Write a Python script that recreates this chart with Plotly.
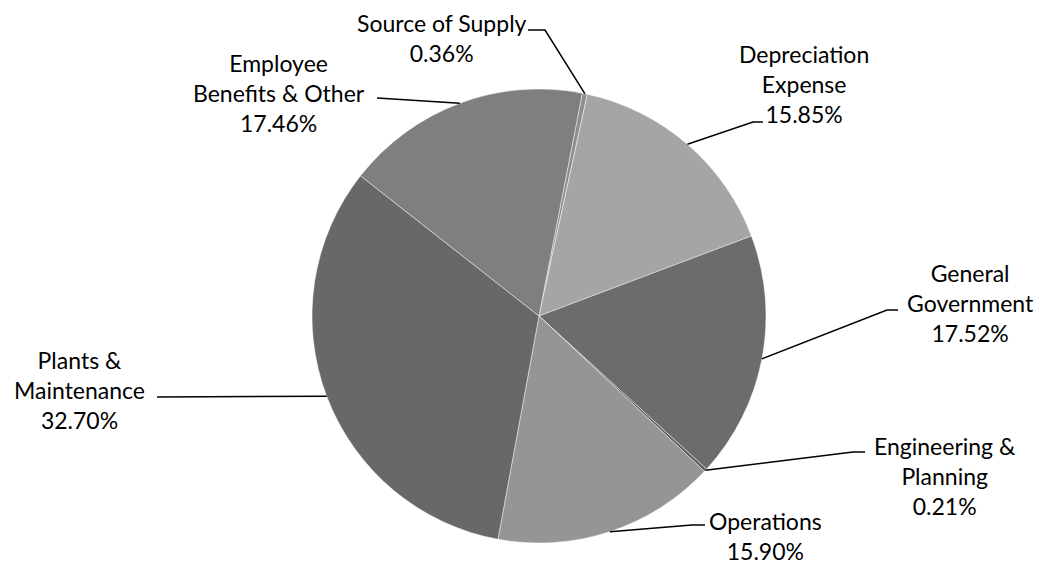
import math
import plotly.graph_objects as go

# ---- data ----
categories = ["Source of Supply", "Depreciation Expense", "General Government",
              "Engineering & Planning", "Operations", "Plants & Maintenance",
              "Employee Benefits & Other"]
label_lines = ["Source of Supply", "Depreciation<br>Expense", "General<br>Government",
               "Engineering &<br>Planning", "Operations", "Plants &<br>Maintenance",
               "Employee<br>Benefits & Other"]
shares = [0.36, 15.85, 17.52, 0.21, 15.90, 32.70, 17.46]
colors = ["#8e8e8e", "#a5a5a5", "#6c6c6c", "#5a5a5a", "#959595", "#686868", "#7f7f7f"]

# ---- layout geometry (pixels) ----
W, H = 1043, 565
CX, CY, R = 539, 316, 227
ROTATION = 11

# label block centre, label-side end of leader, elbow point (pixels)
label_pos = [(442, 38), (804, 84), (970, 303), (945, 476), (765, 536), (79, 390), (279, 93)]
line_start = [(528, 30), (763, 122), (898, 310), (865, 452), (705, 525), (157, 397), (377, 98)]
line_elbow = [(545, 30), (753, 122), (887, 310), (853, 452), (692, 525), None, None]


def px(x):
    return x / W


def py(y):
    return 1 - y / H


fig = go.Figure(go.Pie(
    labels=categories, values=shares, sort=False, direction="clockwise",
    rotation=ROTATION, textinfo="none", hoverinfo="label+percent",
    marker=dict(colors=colors, line=dict(color="rgba(255,255,255,0.45)", width=1)),
    domain=dict(x=[px(CX - R), px(CX + R)], y=[py(CY + R), py(CY - R)]),
    showlegend=False,
))

total = sum(shares)
cum = 0.0
annotations = []
shapes = []
for i, v in enumerate(shares):
    mid = ROTATION + (cum + v / 2) / total * 360
    cum += v
    ex = CX + R * math.sin(math.radians(mid))
    ey = CY - R * math.cos(math.radians(mid))
    pts = [line_start[i]]
    if line_elbow[i] is not None:
        pts.append(line_elbow[i])
    pts.append((ex, ey))
    path = "M " + " L ".join(f"{px(x):.5f},{py(y):.5f}" for x, y in pts)
    shapes.append(dict(type="path", xref="paper", yref="paper", path=path,
                       line=dict(color="#000000", width=1.5)))
    lx, ly = label_pos[i]
    annotations.append(dict(
        x=px(lx), y=py(ly), xref="paper", yref="paper", showarrow=False,
        text=f"{label_lines[i]}<br>{v:.2f}%", xanchor="center", yanchor="middle",
        align="center", font=dict(family="Lato", size=23, color="#000000")))

fig.update_layout(
    width=W, height=H, margin=dict(l=0, r=0, t=0, b=0),
    paper_bgcolor="white", plot_bgcolor="white",
    annotations=annotations, shapes=shapes,
)

fig.write_html("out.html", config={"displayModeBar": False},
               post_script="document.body.style.margin='0px';document.body.style.overflow='hidden';")
